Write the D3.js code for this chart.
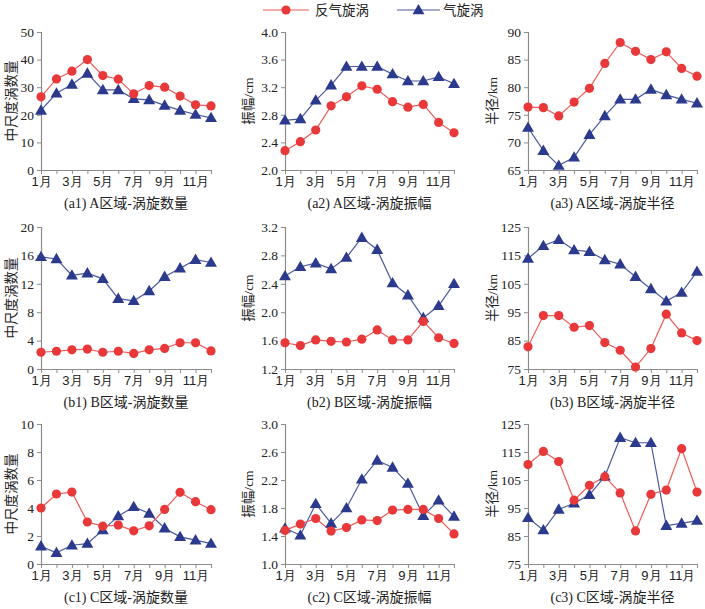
<!DOCTYPE html>
<html><head><meta charset="utf-8">
<script src="https://cdn.jsdelivr.net/npm/d3@7"></script>
<style>
body{margin:0;background:#fff;}
svg{display:block;font-family:"Liberation Serif","Noto Sans CJK SC",serif;}
</style></head>
<body><svg id="c" width="705" height="609"></svg>
<script>
const months = ["1月","2月","3月","4月","5月","6月","7月","8月","9月","10月","11月","12月"];
const xTickLabels = ["1月","3月","5月","7月","9月","11月"];
const seriesNames = ["反气旋涡","气旋涡"];

// A region
const aCountAnti = [26.5,33,35.8,40,34.2,32.9,27.6,30.6,30,26.8,23.6,23.2];
const aCountCyc  = [21.6,27.8,31,35,29,29,25.8,25.4,23.4,21.6,20.1,18.9];
const aAmpAnti   = [2.28,2.41,2.58,2.93,3.06,3.22,3.17,2.99,2.91,2.95,2.69,2.54];
const aAmpCyc    = [2.72,2.74,3.01,3.23,3.50,3.50,3.50,3.39,3.29,3.29,3.35,3.25];
const aRadAnti   = [76.4,76.3,74.8,77.3,79.8,84.3,88.1,86.5,85,86.4,83.4,82];
const aRadCyc    = [72.7,68.5,65.8,67.3,71.4,74.8,77.8,77.8,79.6,78.6,77.8,77.1];
// B region
const bCountAnti = [2.36,2.5,2.7,2.8,2.36,2.5,2.2,2.7,2.9,3.7,3.7,2.55];
const bCountCyc  = [15.8,15.5,13.2,13.5,12.7,9.9,9.6,11.0,13.0,14.2,15.4,15.0];
const bAmpAnti   = [1.57,1.53,1.61,1.59,1.58,1.62,1.75,1.61,1.61,1.87,1.64,1.56];
const bAmpCyc    = [2.51,2.64,2.69,2.61,2.77,3.05,2.88,2.41,2.24,1.92,2.09,2.40];
const bRadAnti   = [82.8,93.8,93.8,89.7,90.3,84.3,81.6,75.7,82.2,94.3,87.7,85];
const bRadCyc    = [113.9,118.4,120.5,116.9,116.3,113.4,111.9,107.5,103.2,98.9,101.9,109.3];
// C region
const cCountAnti = [4.0,5.0,5.14,3.0,2.7,2.78,2.37,2.73,3.9,5.12,4.45,3.88];
const cCountCyc  = [1.27,0.8,1.34,1.46,2.42,3.42,4.09,3.61,2.56,1.94,1.7,1.46];
const cAmpAnti   = [1.48,1.57,1.65,1.47,1.52,1.63,1.62,1.77,1.78,1.78,1.65,1.43];
const cAmpCyc    = [1.51,1.41,1.86,1.58,1.80,2.21,2.48,2.38,2.15,1.69,1.91,1.68];
const cRadAnti   = [110.5,115.2,111.6,97.8,103.1,106.2,100.4,86.8,99.9,101.4,116.2,100.7];
const cRadCyc    = [91.5,87.1,94.5,96.7,99.7,106.3,120.1,118.3,118.3,88.7,89.5,90.5];

// y-axis tick values
const ticksA1 = [0,10,20,30,40,50];
const ticksA2 = [2.0,2.4,2.8,3.2,3.6,4.0];
const ticksA3 = [65,70,75,80,85,90];
const ticksB1 = [0,4,8,12,16,20];
const ticksB2 = [1.2,1.6,2.0,2.4,2.8,3.2];
const ticksB3 = [75,85,95,105,115,125];
const ticksC1 = [0,2,4,6,8,10];
const ticksC2 = [1.0,1.4,1.8,2.2,2.6,3.0];
const ticksC3 = [75,85,95,105,115,125];

const titles = [
  ["(a1) A区域-涡旋数量","(a2) A区域-涡旋振幅","(a3) A区域-涡旋半径"],
  ["(b1) B区域-涡旋数量","(b2) B区域-涡旋振幅","(b3) B区域-涡旋半径"],
  ["(c1) C区域-涡旋数量","(c2) C区域-涡旋振幅","(c3) C区域-涡旋半径"]
];
const yLabels = ["中尺度涡数量","振幅/cm","半径/km"];

const panels = [
  [[aCountAnti,aCountCyc,ticksA1,"d"],[aAmpAnti,aAmpCyc,ticksA2,".1f"],[aRadAnti,aRadCyc,ticksA3,"d"]],
  [[bCountAnti,bCountCyc,ticksB1,"d"],[bAmpAnti,bAmpCyc,ticksB2,".1f"],[bRadAnti,bRadCyc,ticksB3,"d"]],
  [[cCountAnti,cCountCyc,ticksC1,"d"],[cAmpAnti,cAmpCyc,ticksC2,".1f"],[cRadAnti,cRadCyc,ticksC3,"d"]]
];

const colX = [[41,211],[285,454],[528,697]];
const rowY = [[32,170],[227,369],[424,564]];
const yLabelX = [11,248,492];

const RED = "#e8383a", REDL = "#ee5a55";
const BLUE = "#2b3a8c", BLUEL = "#4a58a0";
const AX = "#8c8c8c";

const svg = d3.select("#c");
const tri = d3.symbol().type(d3.symbolTriangle).size(62);

function drawMarkers(g, data, x, y, type){
  if(type==="circle"){
    g.selectAll("circle.m").data(data).join("circle").attr("class","m")
      .attr("cx",(d,i)=>x(months[i])).attr("cy",d=>y(d)).attr("r",4.6).attr("fill",RED);
  } else {
    g.selectAll("path.m").data(data).join("path").attr("class","m")
      .attr("transform",(d,i)=>`translate(${x(months[i])},${y(d)+0.8})`).attr("d",tri).attr("fill",BLUE);
  }
}

panels.forEach((row,ri)=>{
  row.forEach((p,ci)=>{
    const [anti,cyc,ticks,fmt] = p;
    const x = d3.scalePoint().domain(months).range(colX[ci]).padding(0);
    const y = d3.scaleLinear().domain([ticks[0],ticks[ticks.length-1]]).range([rowY[ri][1],rowY[ri][0]]);
    const g = svg.append("g");

    // y axis
    const ya = g.append("g").attr("transform",`translate(${colX[ci][0]},0)`)
      .call(d3.axisLeft(y).tickValues(ticks).tickFormat(d3.format(fmt)).tickSize(4).tickPadding(3));
    ya.select(".domain").attr("stroke",AX).attr("stroke-width",1.2);
    ya.selectAll(".tick line").attr("stroke",AX);
    ya.selectAll(".tick text").attr("font-size",13.5).attr("fill","#222")
      .attr("font-family","Liberation Serif");

    // x axis
    const xa = g.append("g").attr("transform",`translate(0,${rowY[ri][1]})`)
      .call(d3.axisBottom(x).tickSize(4).tickPadding(3).tickSizeOuter(0)
        .tickFormat(d=>xTickLabels.includes(d)?d:""));
    xa.select(".domain").attr("stroke",AX).attr("stroke-width",1.2);
    xa.selectAll(".tick line").attr("stroke",AX);
    xa.selectAll(".tick text").attr("font-size",13).attr("fill","#222");

    const line = d3.line().x((d,i)=>x(months[i])).y(d=>y(d));
    g.append("path").datum(cyc).attr("d",line).attr("fill","none").attr("stroke",BLUEL).attr("stroke-width",1.2);
    g.append("path").datum(anti).attr("d",line).attr("fill","none").attr("stroke",REDL).attr("stroke-width",1.2);
    drawMarkers(g.append("g"),cyc,x,y,"tri");
    drawMarkers(g.append("g"),anti,x,y,"circle");

    // y label
    const cy = (rowY[ri][0]+rowY[ri][1])/2;
    g.append("text").attr("transform",`translate(${yLabelX[ci]},${cy}) rotate(-90)`)
      .attr("text-anchor","middle").attr("dominant-baseline","central")
      .attr("font-size",13.5).attr("fill","#222").text(yLabels[ci]);

    // title
    g.append("text").attr("x",(colX[ci][0]+colX[ci][1])/2).attr("y",rowY[ri][1]+38)
      .attr("text-anchor","middle").attr("font-size",14).attr("fill","#222").text(titles[ri][ci]);
  });
});

// legend
const lg = svg.append("g");
const legendItems = [
  {name:seriesNames[0],x1:263,x2:309,tx:315,type:"circle"},
  {name:seriesNames[1],x1:397,x2:440,tx:443,type:"tri"}
];
legendItems.forEach(it=>{
  lg.append("line").attr("x1",it.x1).attr("x2",it.x2).attr("y1",10).attr("y2",10)
    .attr("stroke",it.type==="circle"?REDL:BLUEL).attr("stroke-width",1.2);
  const mx=(it.x1+it.x2)/2;
  if(it.type==="circle") lg.append("circle").attr("cx",mx).attr("cy",10).attr("r",4.6).attr("fill",RED);
  else lg.append("path").attr("transform",`translate(${mx},10.8)`).attr("d",tri).attr("fill",BLUE);
  lg.append("text").attr("x",it.tx).attr("y",10).attr("dominant-baseline","central")
    .attr("font-size",13.5).attr("fill","#222").text(it.name);
});
</script></body></html>
